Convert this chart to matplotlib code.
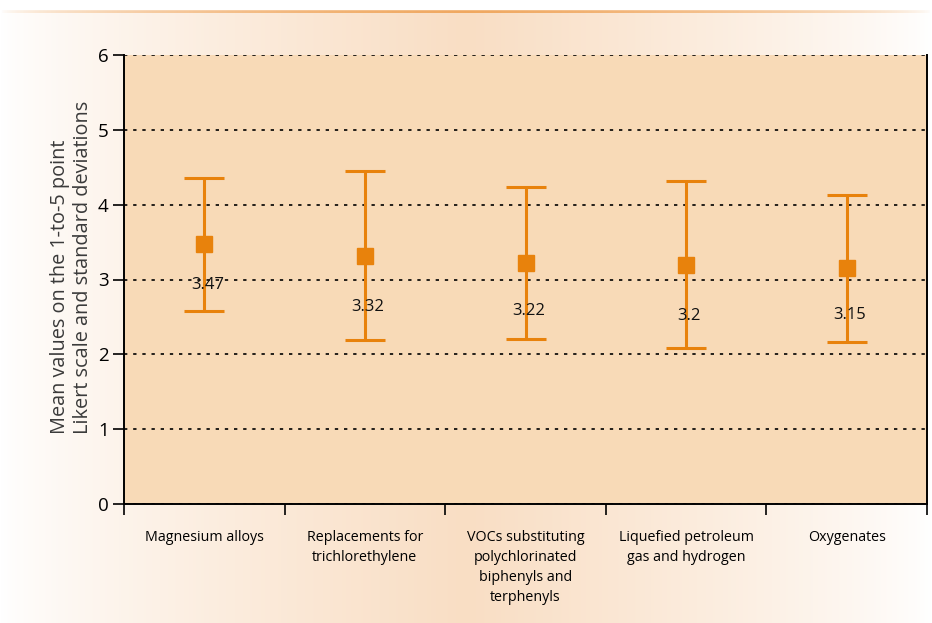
import matplotlib.pyplot as plt
import numpy as np

# categories and values
categories = ['Magnesium alloys',
              'Replacements for\ntrichlorethylene',
              'VOCs substituting\npolychlorinated\nbiphenyls and\nterphenyls',
              'Liquefied petroleum\ngas and hydrogen',
              'Oxygenates']
means = [3.47, 3.32, 3.22, 3.2, 3.15]
std_devs = [0.89, 1.13, 1.01, 1.12, 0.98]
value_labels = ['3.47', '3.32', '3.22', '3.2', '3.15']

# how far below each marker the value label sits (data units)
label_drop = [0.55, 0.69, 0.64, 0.69, 0.63]

orange = '#e8820c'
plt.rcParams['font.family'] = ['Open Sans', 'DejaVu Sans']

fig = plt.figure(figsize=(9.32, 6.23), dpi=100)

# background gradient (white at edges, peach in the middle)
bg = fig.add_axes([0, 0, 1, 1], zorder=-10)
xs = np.linspace(0, 1, 400)
w = np.clip(1 - np.abs(xs - 0.5) / 0.5, 0, 1) ** 0.8
white = np.array([1.0, 1.0, 1.0])
peach = np.array([249, 222, 196]) / 255
row = white[None, :] * (1 - w[:, None]) + peach[None, :] * w[:, None]
img = np.tile(row[None, :, :], (10, 1, 1))
bg.imshow(img, aspect='auto', extent=[0, 1, 0, 1])
# thin orange line along the top
line_col = np.array([240, 168, 96]) / 255
strip = np.zeros((1, 400, 4))
strip[0, :, :3] = line_col
strip[0, :, 3] = np.clip(1 - np.abs(xs - 0.5) / 0.5, 0, 1) ** 0.6
bg.imshow(strip, aspect='auto', extent=[0, 1, 1 - 13 / 623, 1 - 9 / 623])
# white above the strip
bg.axhspan(1 - 9 / 623, 1, color='white')
bg.set_xlim(0, 1)
bg.set_ylim(0, 1)
bg.axis('off')

ax = fig.add_axes([124 / 932, 1 - 504 / 623, (927 - 124) / 932, (504 - 55) / 623])
ax.set_facecolor('#f8dab7')

x = np.arange(len(categories)) + 0.5
ax.errorbar(x, means, yerr=std_devs, fmt='s', color=orange, ecolor=orange,
            markersize=11.5, elinewidth=2.2, capsize=14.5, capthick=2.2, zorder=3)

for i in range(len(means)):
    ax.text(x[i] + 0.02, means[i] - label_drop[i], value_labels[i],
            ha='center', va='center', fontsize=12, color='#111111', zorder=4)

ax.set_xlim(0, 5)
ax.set_ylim(0, 6)
ax.set_yticks([0, 1, 2, 3, 4, 5, 6])
ax.set_xticks([0, 1, 2, 3, 4, 5])
ax.set_xticklabels([])
ax.set_xticks(x, minor=True)
ax.set_xticklabels(categories, minor=True, fontsize=10.3, linespacing=1.45)
ax.tick_params(axis='x', which='major', direction='out', length=8, width=1.2)
ax.tick_params(axis='x', which='minor', length=0, pad=19)
ax.tick_params(axis='y', direction='out', length=8, width=1.2, labelsize=13.5, pad=3)

ax.yaxis.grid(True, color='black', linestyle=(0, (2, 3.5)), linewidth=1.2)
ax.set_axisbelow(True)
ax.spines['top'].set_visible(False)
for s in ['left', 'bottom', 'right']:
    ax.spines[s].set_linewidth(1.4)

ax.set_ylabel('Mean values on the 1-to-5 point\nLikert scale and standard deviations',
              fontsize=14.3, color='#3a3a3a', linespacing=1.15, multialignment='left')
ax.yaxis.set_label_coords(-0.039, 0.528)

fig.savefig('out.png', dpi=100)
